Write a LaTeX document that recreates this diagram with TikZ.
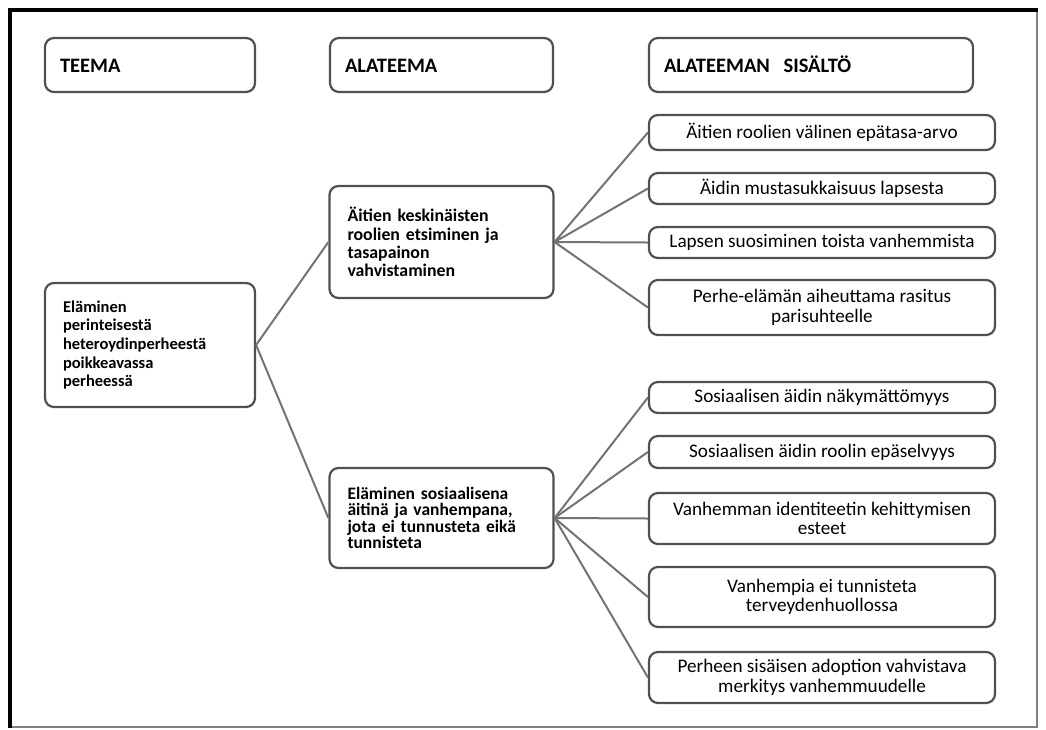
\documentclass[tikz,border=0pt]{standalone}
\usepackage{fontspec}
\setmainfont{Carlito}
\usepackage{tikz}
\usetikzlibrary{positioning}
\definecolor{reuna}{RGB}{80,80,80}
\definecolor{viivaharmaa}{RGB}{115,115,115}

\begin{document}
\begin{tikzpicture}[x=1pt,y=1pt,
    laatikko/.style={rectangle,rounded corners=9pt,draw=reuna,line width=2.2pt,
                     fill=white,inner sep=0pt,align=center,
                     font=\fontsize{19.2}{19.5}\selectfont},
    otsikko/.style={laatikko,align=left,inner xsep=15pt,minimum height=54pt,
                    text height=14pt,text depth=0pt,
                    font=\bfseries\fontsize{20.5}{22}\selectfont},
    teema/.style={laatikko,align=left,inner xsep=18pt,
                  font=\bfseries\fontsize{16.5}{18.6}\selectfont},
    sisalto/.style={laatikko,minimum width=346pt},
    viiva/.style={draw=viivaharmaa,line width=2pt}
]
\useasboundingbox (0,0) rectangle (1046,-729);
% kehys
\draw[gray,line width=1.5pt] (10,-10) -- (1037,-10) -- (1037,-727) -- (10,-727);
\draw[black,line width=4pt] (10,-727.5) -- (10,-10) -- (1038,-10);

% otsikot
\node[otsikko,text width=180pt] (teemaots) at (150,-65) {TEEMA};
\node[otsikko,text width=193pt] (alaots) at (441.5,-65) {ALATEEMA};
\node[otsikko,text width=294pt] (sisots) at (811,-65) {ALATEEMAN \ SISÄLTÖ};

% teema ja alateemat
\node[teema,text width=174pt,minimum height=124pt] (teema) at (150,-345)
  {Eläminen\\perinteisestä\\heteroydinperheestä\\poikkeavassa\\perheessä};
\node[teema,text width=188pt,minimum height=112pt,
      font=\bfseries\fontsize{17.8}{18.3}\selectfont] (ala1) at (441.5,-242)
  {Äitien keskinäisten\\roolien etsiminen ja\\tasapainon\\vahvistaminen};
\node[teema,text width=188pt,minimum height=100pt,
      font=\bfseries\fontsize{17.5}{16.3}\selectfont] (ala2) at (441.5,-518)
  {Eläminen sosiaalisena\\äitinä ja vanhempana,\\jota ei tunnusteta eikä\\tunnisteta};

% sisällöt
\node[sisalto,minimum height=35pt] (s1) at (822,-132.5) {Äitien roolien välinen epätasa-arvo};
\node[sisalto,minimum height=31pt] (s2) at (822,-188.5) {Äidin mustasukkaisuus lapsesta};
\node[sisalto,minimum height=31pt] (s3) at (822,-242.5) {Lapsen suosiminen toista vanhemmista};
\node[sisalto,minimum height=55pt] (s4) at (822,-307.5) {Perhe-elämän aiheuttama rasitus\\parisuhteelle};
\node[sisalto,minimum height=31pt] (s5) at (822,-397.5) {Sosiaalisen äidin näkymättömyys};
\node[sisalto,minimum height=32pt] (s6) at (822,-452) {Sosiaalisen äidin roolin epäselvyys};
\node[sisalto,minimum height=51pt] (s7) at (822,-518.5) {Vanhemman identiteetin kehittymisen\\esteet};
\node[sisalto,minimum height=60pt] (s8) at (822,-597) {Vanhempia ei tunnisteta\\terveydenhuollossa};
\node[sisalto,minimum height=51pt] (s9) at (822,-677.5) {Perheen sisäisen adoption vahvistava\\merkitys vanhemmuudelle};

% yhteydet
\foreach \a in {ala1,ala2}
  \draw[viiva] (teema.east) -- (\a.west);
\foreach \s in {s1,s2,s3,s4}
  \draw[viiva] (ala1.east) -- (\s.west);
\foreach \s in {s5,s6,s7,s8,s9}
  \draw[viiva] (ala2.east) -- (\s.west);
\end{tikzpicture}
\end{document}
